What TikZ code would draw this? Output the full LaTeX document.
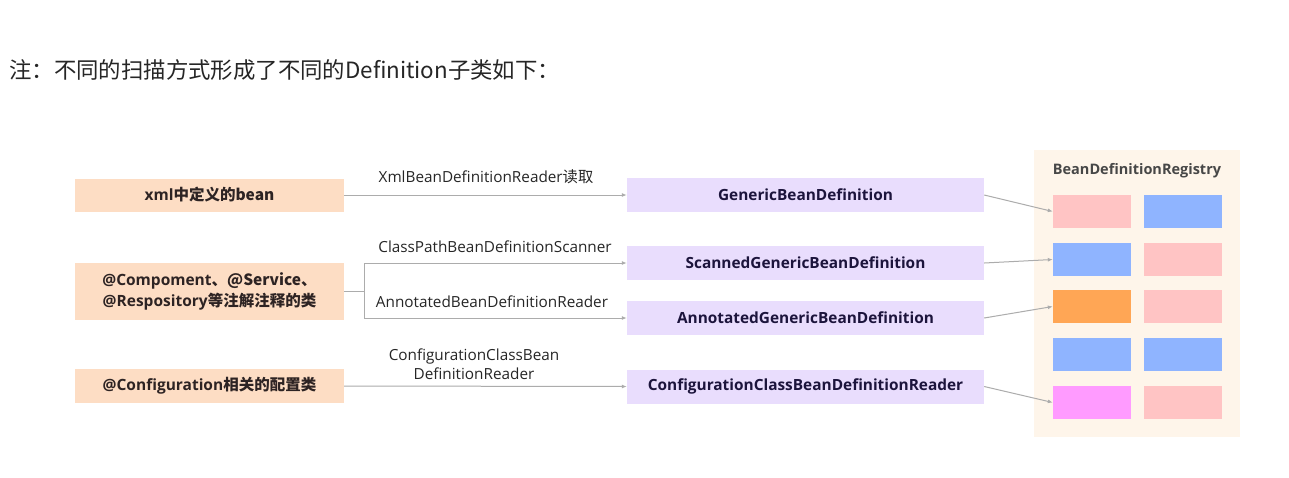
\documentclass[tikz,border=0pt]{standalone}
\usepackage{fontspec}
\setmainfont{Open Sans}
\newfontfamily\cjk{Noto Sans CJK SC}
\usepackage{xcolor}
\usepackage{tikz}
\usetikzlibrary{arrows.meta,positioning}
\definecolor{srcfill}{RGB}{253,221,196}
\definecolor{deffill}{RGB}{233,221,253}
\definecolor{regfill}{RGB}{254,245,234}
\definecolor{linegray}{RGB}{172,172,172}
\definecolor{deftext}{RGB}{28,20,60}
\definecolor{srctext}{RGB}{45,35,35}
\definecolor{cpink}{RGB}{255,196,196}
\definecolor{cblue}{RGB}{143,180,255}
\definecolor{corange}{RGB}{255,166,85}
\definecolor{cmagenta}{RGB}{255,155,255}

\tikzset{
  srcbox/.style={fill=srcfill,text=srctext,minimum width=269pt,minimum height=33pt,inner sep=0pt,
    align=center,font=\bfseries\fontsize{15.5}{21}\selectfont},
  defbox/.style={fill=deffill,text=deftext,minimum width=357pt,minimum height=34pt,inner sep=0pt,
    font=\bfseries\fontsize{15.4}{18}\selectfont},
  lbl/.style={text=black!85,inner sep=0pt,align=center,font=\fontsize{15.3}{18.5}\selectfont},
  conn/.style={draw=linegray,line width=1pt,-{Latex[length=5pt,width=4pt]}},
  cell/.style={minimum width=78pt,minimum height=33pt,inner sep=0pt}
}

\begin{document}
\begin{tikzpicture}[x=1pt,y=-1pt]
        \useasboundingbox[fill=white] (0,0) rectangle (1289,477);
        \node[anchor=west,inner sep=0pt,font=\fontsize{22.4}{25}\selectfont,text=black!85] (note) at (9,70)
          {\cjk{注：不同的扫描方式形成了不同的}Definition\cjk{子类如下：}};

        % sources
        \node[srcbox] (xml) at (209.5,195) {xml\cjk{中定义的}bean};
        \node[srcbox,minimum height=57pt] (anno) at (209.5,291.5) {@Compoment\cjk{、}@Service\cjk{、}\\@Respository\cjk{等注解注释的类}};
        \node[srcbox,minimum height=34pt] (conf) at (209.5,386) {@Configuration\cjk{相关的配置类}};

        % definitions
        \node[defbox] (generic) at (805.5,195) {GenericBeanDefinition};
        \node[defbox] (scanned) at (805.5,263) {ScannedGenericBeanDefinition};
        \node[defbox] (annotated) at (805.5,318) {AnnotatedGenericBeanDefinition};
        \node[defbox] (confdef) at (805.5,386.5) {ConfigurationClassBeanDefinitionReader};

        % readers
        \node[lbl] (xmlreader) at (486,177) {XmlBeanDefinitionReader\cjk{读取}};
        \node[lbl] (scanner) at (495,247) {ClassPathBeanDefinitionScanner};
        \node[lbl] (annoreader) at (492,302) {AnnotatedBeanDefinitionReader};
        \node[lbl] (confreader) at (474,364) {ConfigurationClassBean\\DefinitionReader};

        \coordinate (split) at (364,291.5);
        \draw[conn] (xml) -- (generic);
        \draw[draw=linegray,line width=1pt] (anno.east) -- (split);
        \draw[conn] (split) |- (scanned.west);
        \draw[conn] (split) |- (annotated.west);
        \draw[conn] (conf.east) -- (confdef.west);

        % registry
        \node[fill=regfill,minimum width=206pt,minimum height=287pt,inner sep=0pt] (reg) at (1137,293.5) {};
        \node[inner sep=0pt,text=black!72,font=\bfseries\fontsize{14.5}{16}\selectfont] (regtitle) at (1137,171) {BeanDefinitionRegistry};
        \foreach \r/\y/\ca/\cb in {1/211.5/cpink/cblue, 2/259.5/cblue/cpink, 3/306.5/corange/cpink,
                                   4/354.5/cblue/cblue, 5/402.5/cmagenta/cpink}{
          \node[cell,fill=\ca] (c\r a) at (1092,\y) {};
          \node[cell,fill=\cb] (c\r b) at (1183,\y) {};
        }

        \draw[conn] (generic.east) -- (c1a.west);
        \draw[conn] (scanned.east) -- (c2a.west);
        \draw[conn] (annotated.east) -- (c3a.west);
        \draw[conn] (confdef.east) -- (c5a.west);
      \end{tikzpicture}
\end{document}
